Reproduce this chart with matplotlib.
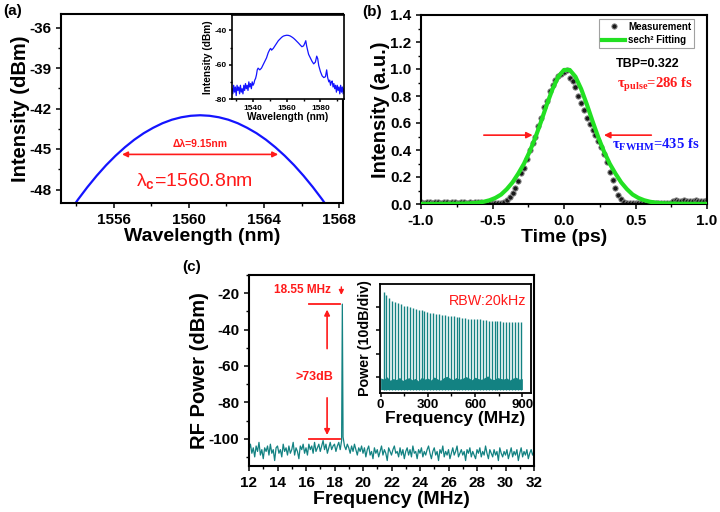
import numpy as np
import matplotlib
matplotlib.use('Agg')
import matplotlib.pyplot as plt
from matplotlib.ticker import MultipleLocator

plt.rcParams.update({
    'font.family': 'Liberation Sans',
    'font.weight': 'bold',
    'axes.labelweight': 'bold',
    'axes.linewidth': 1.5,
    'axes.unicode_minus': False,
    'xtick.direction': 'out',
    'ytick.direction': 'out',
    'xtick.major.size': 3.6,
    'ytick.major.size': 3.6,
    'xtick.minor.size': 2.0,
    'ytick.minor.size': 2.0,
    'xtick.major.width': 1.1,
    'ytick.major.width': 1.1,
    'xtick.minor.width': 1.0,
    'ytick.minor.width': 1.0,
    'mathtext.fontset': 'custom',
    'mathtext.rm': 'Liberation Serif:bold',
    'mathtext.sf': 'Liberation Sans',
})

# ---------------- data ----------------
# (a) spectrum around the peak
wl_main = [1553.6, 1554.1, 1554.6, 1555.1, 1555.6, 1556.1, 1556.6, 1557.1, 1557.6, 1558.1,
           1558.6, 1559.1, 1559.6, 1560.1, 1560.6, 1561.1, 1561.6, 1562.1, 1562.6, 1563.1,
           1563.6, 1564.1, 1564.6, 1565.1, 1565.6, 1566.1, 1566.6, 1567.1, 1567.6]
int_main = [-49.75, -48.75, -47.83, -46.98, -46.20, -45.50, -44.87, -44.31, -43.83, -43.43,
            -43.09, -42.83, -42.65, -42.54, -42.50, -42.54, -42.65, -42.83, -43.09, -43.43,
            -43.83, -44.31, -44.87, -45.50, -46.20, -46.98, -47.83, -48.75, -49.75]

# (a) inset: full spectrum
wl_full = [1527.5, 1528, 1528.5, 1529, 1529.5, 1530, 1530.5, 1531, 1531.5, 1532, 1532.5, 1533,
           1533.5, 1534, 1534.5, 1535, 1535.5, 1536, 1536.5, 1537, 1537.5, 1538, 1538.5, 1539,
           1539.5, 1540, 1540.5, 1541, 1541.5, 1542, 1542.5, 1543, 1544, 1545, 1546, 1547, 1548,
           1549, 1550, 1550.5, 1551, 1552, 1553, 1554, 1555, 1556, 1557, 1558, 1559, 1560, 1561,
           1562, 1563, 1564, 1565, 1566, 1567, 1568, 1569, 1570, 1570.7, 1571.3, 1571.8, 1572.5,
           1573, 1574, 1575, 1576, 1577, 1577.8, 1578.4, 1579, 1580, 1581, 1582, 1583, 1583.7,
           1584.3, 1585, 1585.5, 1586, 1586.5, 1587, 1587.5, 1588, 1588.5, 1589, 1589.5, 1590,
           1590.5, 1591, 1591.5, 1592, 1592.5, 1593, 1593.5, 1594]
int_full = [-74, -77, -72, -76, -73, -78, -72, -75, -73, -77, -72, -76,
            -74, -77, -72, -75, -71, -74, -72, -75, -70, -73, -71, -74,
            -70, -72, -71, -69, -68, -66, -63, -62, -63, -62, -60, -58, -56,
            -53, -51, -50.5, -51.5, -50.5, -49, -47.5, -46, -45, -44, -43.3, -43, -42.8, -42.9,
            -43.2, -43.8, -44.5, -45.4, -46.4, -47.4, -48.5, -49.5, -49, -47.5, -46, -49, -52,
            -54, -56, -58, -59.5, -58.5, -55, -56.5, -60.5, -64, -66.5, -67.5, -67, -63,
            -67.5, -70, -69, -72, -70, -69.5, -73, -71, -74, -72, -76, -72,
            -75, -73, -77, -72, -76, -73, -77, -74]

# (b) autocorrelation trace
t_meas = np.round(np.arange(-1.0, 1.0001, 0.02), 2)
ac_meas = [0.012, 0.011, 0.013, 0.012, 0.010, 0.012, 0.013, 0.011, 0.012, 0.012,
           0.010, 0.013, 0.012, 0.011, 0.012, 0.013, 0.011, 0.012, 0.010, 0.012,
           0.013, 0.012, 0.011, 0.012, 0.010, 0.011, 0.009, 0.008,
           0.006, 0.012, 0.03, 0.05, 0.08, 0.12, 0.17, 0.23, 0.27, 0.33, 0.40, 0.45,
           0.50, 0.58, 0.64, 0.72, 0.76, 0.84, 0.88, 0.92, 0.95, 0.96, 0.98, 0.99,
           0.93, 0.91, 0.87, 0.80, 0.75, 0.70, 0.64, 0.59, 0.55, 0.51, 0.47, 0.42,
           0.37, 0.31, 0.24, 0.18, 0.12, 0.07, 0.035, 0.015, 0.006,
           0.004, 0.005, 0.004, 0.004, 0.005, 0.004, 0.003, 0.004, 0.005, 0.004,
           0.004, 0.005, 0.004, 0.004, 0.005,
           0.024, 0.026, 0.025, 0.024, 0.026, 0.025, 0.025, 0.024, 0.026, 0.025,
           0.024, 0.025, 0.026]
t_fit = np.round(np.arange(-1.0, 1.0001, 0.04), 2)
ac_fit = [0.001, 0.001, 0.001, 0.001, 0.0015, 0.002, 0.002, 0.003, 0.004, 0.006,
          0.010, 0.017, 0.028, 0.045, 0.07, 0.11, 0.16, 0.225, 0.298, 0.388,
          0.493, 0.612, 0.737, 0.852, 0.943, 0.993, 0.993, 0.943, 0.852, 0.737,
          0.612, 0.493, 0.388, 0.298, 0.225, 0.16, 0.11, 0.07, 0.045, 0.028,
          0.017, 0.010, 0.006, 0.004, 0.003, 0.002, 0.002, 0.0015, 0.001, 0.001,
          0.001]

# (c) RF spectrum, fundamental
rf_freq = np.concatenate([np.arange(120, 186) / 10, [18.55], np.arange(186, 321) / 10])
rf_power = [-106, -103, -108, -105, -110, -104, -107, -102, -109, -106,
            -111, -105, -107, -104, -109, -103, -108, -106, -112, -105,
            -104, -108, -106, -110, -103, -107, -105, -109, -104, -108,
            -106, -102, -109, -105, -107, -111, -104, -106, -103, -108,
            -105, -109, -103, -106, -104, -108, -102, -107, -105, -103,
            -107, -104, -101, -106, -103, -108, -105, -102, -106, -104,
            -103, -107, -104, -102, -106, -101,
            -26,
            -99, -104, -106, -103,
            -105, -108, -104, -107, -103, -106, -109, -105, -107, -104,
            -108, -105, -110, -106, -104, -109, -107, -111, -105, -108,
            -106, -110, -107, -104, -109, -106, -108, -112, -105, -107,
            -109, -106, -104, -108, -107, -110, -105, -109, -106, -111,
            -107, -105, -109, -106, -110, -104, -108, -107, -111, -106,
            -108, -105, -110, -107, -109, -106, -104, -108, -111, -107,
            -105, -109, -107, -112, -106, -108, -104, -110, -107, -109,
            -106, -111, -108, -105, -109, -107, -104, -110, -108, -106,
            -109, -107, -112, -106, -108, -105, -110, -107, -109, -111,
            -106, -108, -105, -110, -107, -109, -104, -108, -111, -106,
            -108, -110, -106, -109, -107, -112, -105, -108, -110, -107,
            -109, -106, -111, -108, -105, -110, -107, -109, -106, -112,
            -108, -105, -110, -107, -109, -106, -111, -108, -106, -109,
            -107]

# (c) inset: harmonics up to 900 MHz
rep_rate = 18.55
harm_top = [-13.3, -14.7, -16.2, -17.2, -17.9, -18.4, -18.8, -19.3, -19.7, -20.0,
            -20.4, -20.8, -21.1, -21.4, -21.7, -22.1, -22.5, -22.6, -22.8, -23.1,
            -23.4, -23.5, -23.7, -24.0, -24.0, -24.3, -24.4, -24.6, -24.8, -24.9,
            -25.0, -25.2, -25.3, -25.3, -25.5, -25.6, -25.8, -25.9, -25.9, -26.0,
            -26.1, -26.2, -26.2, -26.4, -26.5, -26.5, -26.6, -26.6]
floor_top = [-50.5, -51.0, -50.0, -51.5, -50.8, -51.2, -50.3, -51.6, -50.9, -50.4,
             -51.3, -50.7, -51.8, -50.2, -51.0, -50.6, -51.4, -50.1, -50.9, -51.5,
             -50.4, -49.8, -50.6, -51.2, -50.3, -51.0, -50.7, -49.9, -50.5, -51.3,
             -50.2, -50.8, -51.1, -50.4, -49.6, -50.9, -51.2, -50.3, -50.7, -51.0,
             -50.5, -51.4, -50.6, -50.2, -51.0, -50.8]
floor_bottom = -55.5

# ---------------- figure ----------------
fig = plt.figure(figsize=(7.2, 5.12), dpi=100)

def px_axes(left, top, right, bottom):
    return fig.add_axes([left / 720, 1 - bottom / 512, (right - left) / 720, (bottom - top) / 512])

RED = '#ff1a1a'
BLUE = '#1414ff'
TEAL = '#138282'

# (a)
ax_a = px_axes(61, 14, 343, 203)
ax_a.plot(wl_main, int_main, color=BLUE, lw=1.6)
ax_a.set_xlim(1553.2, 1568.2)
ax_a.set_ylim(-49, -35)
ax_a.xaxis.set_major_locator(MultipleLocator(4))
ax_a.xaxis.set_minor_locator(MultipleLocator(2))
ax_a.yaxis.set_major_locator(MultipleLocator(3))
ax_a.yaxis.set_minor_locator(MultipleLocator(1.5))
ax_a.tick_params(labelsize=11)
ax_a.set_xlabel('Wavelength (nm)', fontsize=14, labelpad=1)
ax_a.set_ylabel('Intensity (dBm)', fontsize=14.5, labelpad=-1)
ax_a.annotate('', xy=(1556.3, -45.4), xytext=(1564.9, -45.4),
              arrowprops=dict(arrowstyle='<|-|>', color=RED, lw=1.2, mutation_scale=8))
ax_a.text(1560.6, -44.6, 'Δλ=9.15nm', color=RED, fontsize=7.5, ha='center', va='center')
ax_a.text(1560.3, -47.4, 'λ$_\\mathsf{c}$=1560.8nm', color=RED, fontsize=14,
          fontweight='normal', ha='center', va='center')

ax_ai = px_axes(232, 15, 344, 99)
ax_ai.plot(wl_full, int_full, color=BLUE, lw=0.9)
ax_ai.set_xlim(1527.5, 1594)
ax_ai.set_ylim(-80, -31)
ax_ai.xaxis.set_major_locator(MultipleLocator(20))
ax_ai.xaxis.set_minor_locator(MultipleLocator(10))
ax_ai.yaxis.set_major_locator(MultipleLocator(20))
ax_ai.yaxis.set_minor_locator(MultipleLocator(10))
ax_ai.tick_params(labelsize=6, length=2.5, pad=1.5)
ax_ai.tick_params(which='minor', length=1.5)
ax_ai.set_xlabel('Wavelength (nm)', fontsize=7.3, labelpad=0)
ax_ai.set_ylabel('Intensity (dBm)', fontsize=7.3, labelpad=1)
for s in ax_ai.spines.values():
    s.set_linewidth(1.2)

# (b)
ax_b = px_axes(421, 15, 707, 204)
ax_b.plot(t_meas, ac_meas, 'o', ms=3.8, mfc='#1a1a1a', mec='#8c8c8c', mew=0.7,
          label='Measurement', zorder=2)
ax_b.plot(t_fit, ac_fit, color='#22e022', lw=3, label='sech² Fitting', zorder=3)
ax_b.set_xlim(-1, 1)
ax_b.set_ylim(0, 1.4)
ax_b.xaxis.set_major_locator(MultipleLocator(0.5))
ax_b.xaxis.set_minor_locator(MultipleLocator(0.25))
ax_b.yaxis.set_major_locator(MultipleLocator(0.2))
ax_b.yaxis.set_minor_locator(MultipleLocator(0.1))
ax_b.tick_params(labelsize=11)
ax_b.set_xlabel('Time (ps)', fontsize=14, labelpad=1)
ax_b.set_ylabel('Intensity (a.u.)', fontsize=14.5, labelpad=0)
leg = ax_b.legend(loc='upper right', bbox_to_anchor=(0.955, 0.98), fontsize=7,
                  frameon=True, fancybox=False, edgecolor='#8a8a8a', handlelength=2.4,
                  borderpad=0.3, labelspacing=0.35, handletextpad=0.3, numpoints=1,
                  borderaxespad=0)
leg.get_frame().set_linewidth(0.8)
ax_b.text(0.585, 1.04, 'TBP=0.322', fontsize=9, ha='center', va='center', color='black')
ax_b.text(0.64, 0.88, '$\\mathrm{\\tau_{pulse}}$=286 fs', fontsize=10.5, ha='center',
          va='center', color=RED, family='Liberation Serif')
ax_b.text(0.64, 0.44, '$\\mathrm{\\tau_{FWHM}}$=435 fs', fontsize=10.5, ha='center',
          va='center', color=BLUE, family='Liberation Serif')
ax_b.annotate('', xy=(-0.2, 0.51), xytext=(-0.58, 0.51),
              arrowprops=dict(arrowstyle='-|>', color=RED, lw=1.2, mutation_scale=9))
ax_b.annotate('', xy=(0.26, 0.51), xytext=(0.63, 0.51),
              arrowprops=dict(arrowstyle='-|>', color=RED, lw=1.2, mutation_scale=9))

# (c)
ax_c = px_axes(249, 275, 534, 466)
ax_c.plot(rf_freq, rf_power, color=TEAL, lw=0.9)
ax_c.set_xlim(12, 32)
ax_c.set_ylim(-115, -10)
ax_c.xaxis.set_major_locator(MultipleLocator(2))
ax_c.xaxis.set_minor_locator(MultipleLocator(1))
ax_c.yaxis.set_major_locator(MultipleLocator(20))
ax_c.yaxis.set_minor_locator(MultipleLocator(10))
ax_c.tick_params(labelsize=11)
ax_c.set_xlabel('Frequency (MHz)', fontsize=14, labelpad=1)
ax_c.set_ylabel('RF Power (dBm)', fontsize=14.5, labelpad=0)
ax_c.text(15.75, -18.2, '18.55 MHz', color=RED, fontsize=8.5, ha='center', va='center')
ax_c.annotate('', xy=(18.48, -22.5), xytext=(18.48, -15),
              arrowprops=dict(arrowstyle='-|>', color=RED, lw=1.0, mutation_scale=7))
ax_c.plot([16.2, 18.4], [-26, -26], color=RED, lw=1.3)
ax_c.plot([16.2, 18.4], [-100, -100], color=RED, lw=1.3)
ax_c.annotate('', xy=(17.48, -27.5), xytext=(17.48, -52),
              arrowprops=dict(arrowstyle='-|>', color=RED, lw=1.2, mutation_scale=8))
ax_c.annotate('', xy=(17.48, -99.5), xytext=(17.48, -76),
              arrowprops=dict(arrowstyle='-|>', color=RED, lw=1.2, mutation_scale=8))
ax_c.text(16.6, -66, '>73dB', color=RED, fontsize=9, ha='center', va='center')

ax_ci = px_axes(380, 284, 531, 393)
harm_f = rep_rate * np.arange(1, len(harm_top) + 1)
floor_f = np.linspace(0, 900, len(floor_top))
ax_ci.fill_between(floor_f, floor_bottom, floor_top, color=TEAL, lw=0)
ax_ci.vlines(harm_f, floor_bottom, harm_top, color=TEAL, lw=1.0)
ax_ci.set_xlim(-4, 955)
ax_ci.set_ylim(-57, -10)
ax_ci.xaxis.set_major_locator(MultipleLocator(300))
ax_ci.xaxis.set_minor_locator(MultipleLocator(150))
ax_ci.set_yticks([-50, -40, -30, -20])
ax_ci.tick_params(labelsize=9.5, length=3, pad=1.5, labelleft=False)
ax_ci.tick_params(which='minor', length=1.8)
ax_ci.set_xlabel('Frequency (MHz)', fontsize=12.5, labelpad=0)
ax_ci.set_ylabel('Power (10dB/div)', fontsize=10.3, labelpad=3)
ax_ci.text(0.97, 0.84, 'RBW:20kHz', transform=ax_ci.transAxes, color=RED, fontsize=10.3,
           fontweight='normal', ha='right', va='center')
for s in ax_ci.spines.values():
    s.set_linewidth(1.3)

# panel labels
fig.text(13 / 720, 1 - 11 / 512, '(a)', fontsize=11, ha='center', va='center')
fig.text(372 / 720, 1 - 12 / 512, '(b)', fontsize=11, ha='center', va='center')
fig.text(192 / 720, 1 - 267 / 512, '(c)', fontsize=11, ha='center', va='center')

fig.savefig('out.png', dpi=100)
